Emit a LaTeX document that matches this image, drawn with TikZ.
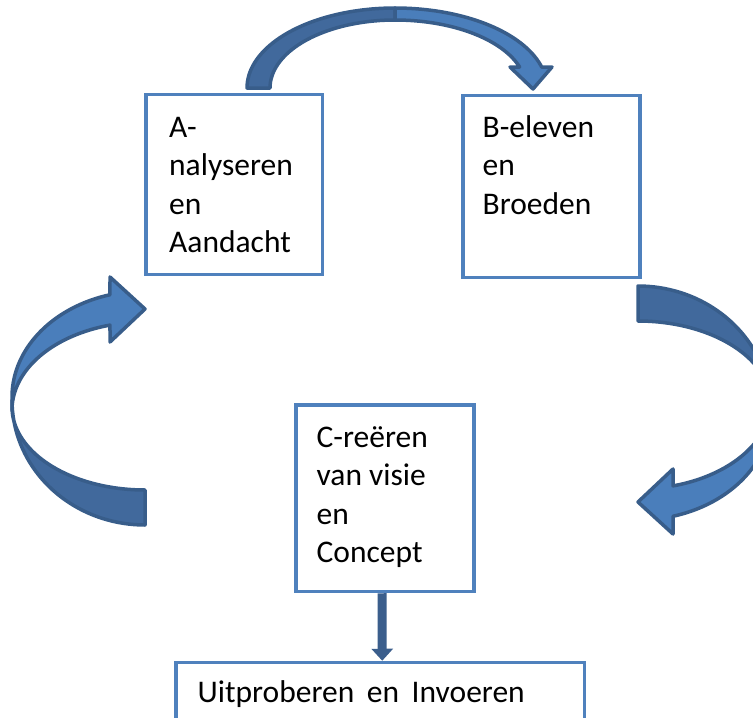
\documentclass[tikz,border=0pt]{standalone}
\usepackage{fontspec}
\setmainfont{Carlito}
\usetikzlibrary{arrows.meta}
\definecolor{boxblue}{HTML}{4F81BD}
\definecolor{arrowline}{HTML}{385D8A}
\definecolor{arrowfront}{HTML}{4A7EBB}
\definecolor{arrowback}{HTML}{41699C}
\definecolor{linkblue}{HTML}{3B5E8C}
\begin{document}
\begin{tikzpicture}[x=1pt,y=-1pt,
  box/.style={draw=boxblue, line width=3.5pt, fill=white, inner sep=0pt},
  boxtext/.style={font=\fontsize{31.5}{38.5}\selectfont, text width=170pt,
    align=flush left, inner sep=0pt, anchor=base west},
  band/.style={draw=arrowline, line width=3.5pt, line join=round},
  frontband/.style={band, fill=arrowfront},
  backband/.style={band, fill=arrowback},
  link/.style={draw=linkblue, line width=9pt,
    -{Triangle[length=12pt,width=21pt]}},
  every plot/.style={samples=40}]
\clip (0,0) rectangle (753,718);

% curved arrow on the left, from the lower left up into box A
\begin{scope}
  \draw[backband]
    plot[domain=0:90, variable=\t] ({145-133*cos(\t)}, {407+83*sin(\t)})
    -- (145,525)
    -- plot[domain=90:0, variable=\t] ({145-133*cos(\t)}, {400+125*sin(\t)})
    -- cycle;
  \draw[frontband]
    plot[domain=0:74.74, variable=\t] ({145-133*cos(\t)}, {397-106*sin(\t)})
    -- (110,277) -- (145,309) -- (110,342)
    -- plot[domain=74.74:0, variable=\t] ({145-133*cos(\t)}, {410-88*sin(\t)})
    -- cycle;
\end{scope}

% the same arrow turned half round on the right, from box B down to box C
\begin{scope}[rotate around={180:(391.5,405.5)}]
  \draw[backband]
    plot[domain=0:90, variable=\t] ({145-133*cos(\t)}, {407+83*sin(\t)})
    -- (145,525)
    -- plot[domain=90:0, variable=\t] ({145-133*cos(\t)}, {400+125*sin(\t)})
    -- cycle;
  \draw[frontband]
    plot[domain=0:74.74, variable=\t] ({145-133*cos(\t)}, {397-106*sin(\t)})
    -- (110,277) -- (145,309) -- (110,342)
    -- plot[domain=74.74:0, variable=\t] ({145-133*cos(\t)}, {410-88*sin(\t)})
    -- cycle;
\end{scope}

% curved arrow over the top, from box A across to box B
\draw[backband]
  plot[domain=0:90, variable=\t] ({395-148*cos(\t)}, {88-80*sin(\t)})
  -- plot[domain=90:0, variable=\t] ({395-125*cos(\t)}, {88-68*sin(\t)})
  -- cycle;
\draw[frontband]
  plot[domain=90:15.22, variable=\t] ({395+152*cos(\t)}, {88-80*sin(\t)})
  -- (552,67) -- (533,89) -- (510,67)
  -- plot[domain=17.99:90, variable=\t] ({395+131*cos(\t)}, {88-68*sin(\t)})
  -- cycle;

% boxes
\node[box, minimum width=176.5pt, minimum height=180pt] (A) at (234.25,184.5) {};
\node[box, minimum width=177pt, minimum height=182pt] (B) at (551.5,186.5) {};
\node[box, minimum width=178pt, minimum height=186.5pt] (C) at (385,498.25) {};
\node[box, minimum width=408.5pt, minimum height=82.5pt] (D) at (380.25,703.75) {};

\node[boxtext] (At) at ([shift={(24.75,44.25)}]A.north west) {A-\\nalyseren\\en\\Aandacht};
\node[boxtext] (Bt) at ([shift={(21.25,43.25)}]B.north west) {B-eleven\\en\\Broeden};
\node[boxtext] (Ct) at ([shift={(22.25,43.75)}]C.north west) {C-reëren\\van visie\\en\\Concept};
\node[boxtext, text width=380pt] (Dt) at ([shift={(23.25,41.25)}]D.north west)
  {\spaceskip=0.4em Uitproberen en Invoeren};

% link from C down to D
\draw[link] ([xshift=-3pt]C.south) -- ([xshift=2pt]D.north);
\end{tikzpicture}
\end{document}
